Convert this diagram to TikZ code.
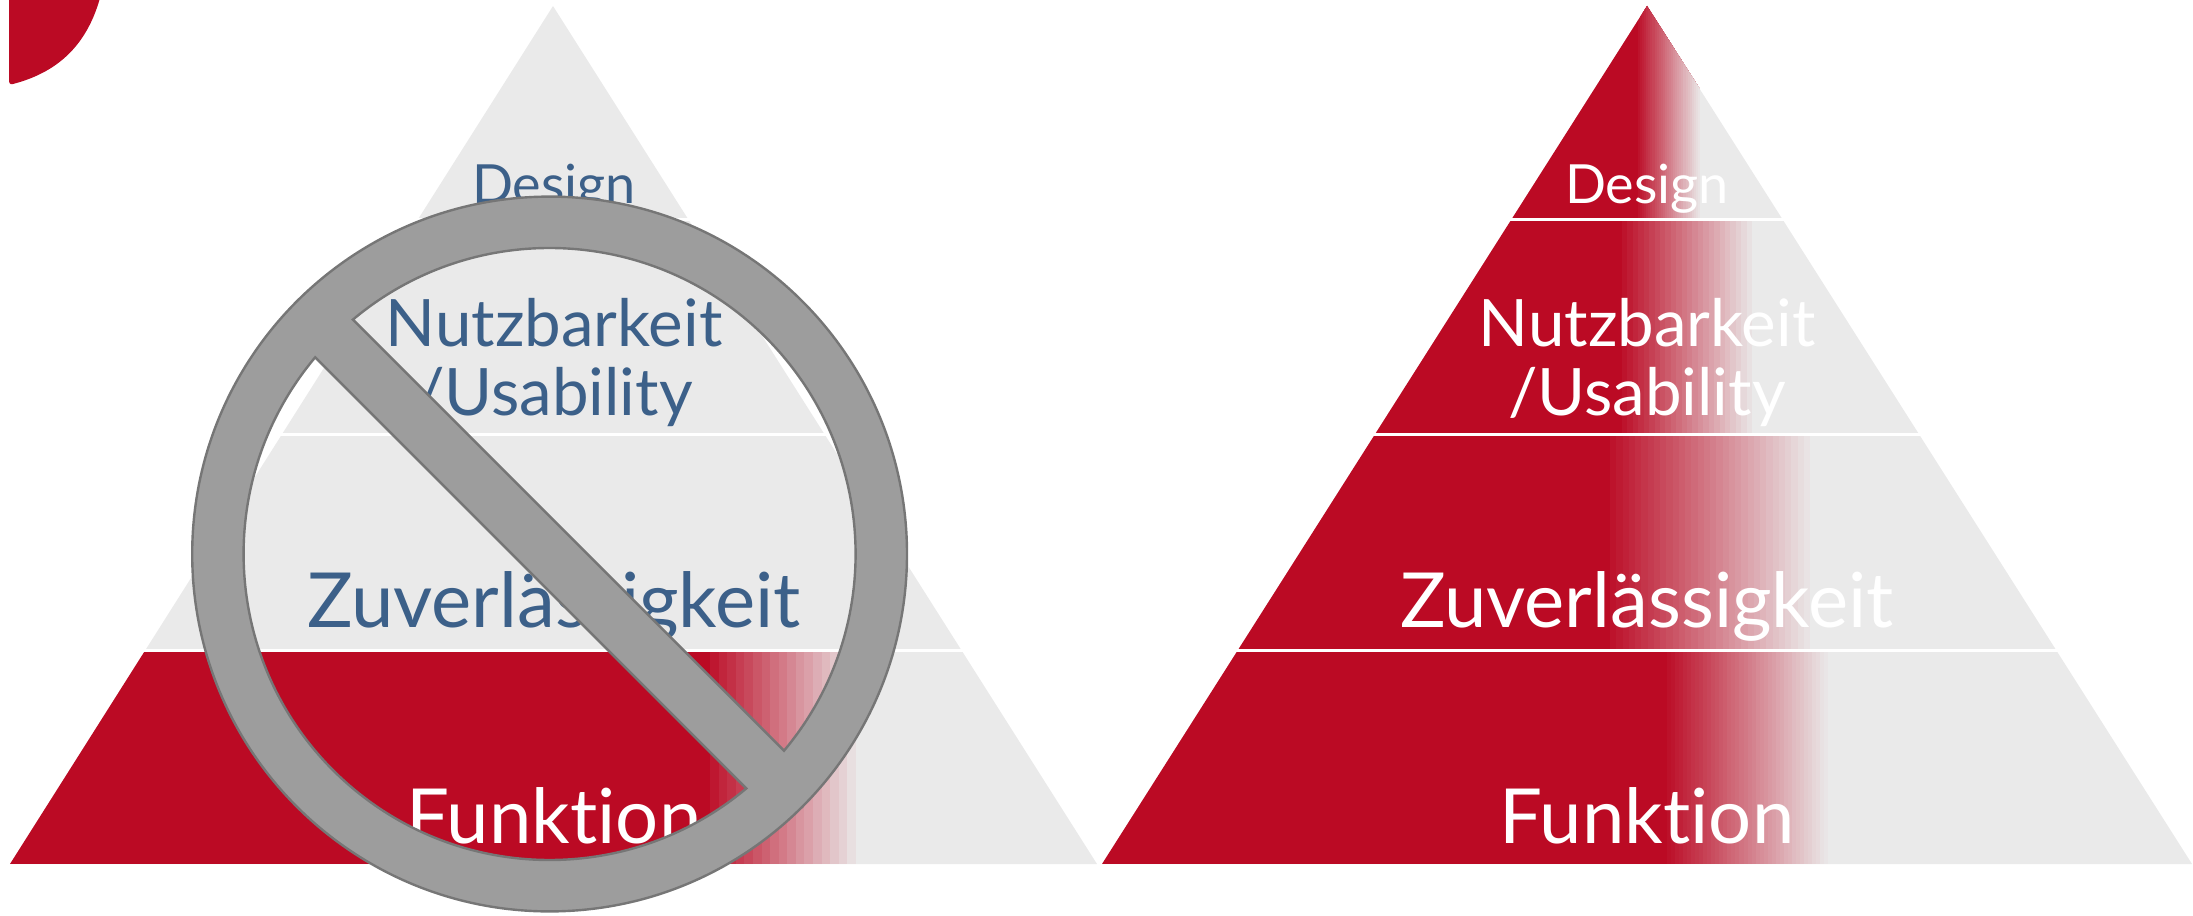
\documentclass[tikz,border=0pt]{standalone}
\usepackage{fontspec}
\setmainfont{Lato}[Ligatures=NoCommon]
\definecolor{pyrred}{RGB}{187,10,36}
\definecolor{pyrgray}{RGB}{234,234,234}
\definecolor{pyrblue}{RGB}{60,96,137}
\definecolor{ringfill}{RGB}{157,157,157}
\definecolor{ringline}{RGB}{118,118,118}
% #1 y top, #2 y bottom, #3 gradient start x, #4 gradient end x, #5 number of bands
\newcommand{\gradrow}[5]{%
  \fill[pyrred] (-10,#1) rectangle (#3,#2);
  \foreach \i in {1,...,#5}{%
    \pgfmathsetmacro{\bx}{#3+(\i-1)*(#4-#3)/#5}%
    \pgfmathtruncatemacro{\bp}{100-100*\i/(#5+1)}%
    \fill[pyrred!\bp!pyrgray] (\bx,#1) rectangle (#4,#2);
  }%
}
\tikzset{
  lab/.style={anchor=base,inner sep=0pt,align=center},
  big/.style={lab,font=\fontsize{38}{38}\selectfont},
  mid/.style={lab,font=\fontsize{32.7}{34.5}\selectfont},
  small/.style={lab,font=\fontsize{27}{27}\selectfont},
  sep/.style={draw=white,line width=1.5pt},
  ring/.style={fill=ringfill,draw=ringline,line width=1.2pt,even odd rule,line join=miter}
}
\begin{document}
\begin{tikzpicture}[x=0.5pt,y=-0.5pt]
\useasboundingbox (0,0) rectangle (2193,915);
% corner shape
\fill[pyrred] (9,-2) -- (9,80) .. controls (9,83) and (10,85) .. (13,84) .. controls (55,73) and (86,48) .. (100,-2) -- cycle;
% left pyramid
\fill[pyrgray] (553,6) -- (1097,864) -- (10,864) -- cycle;
\begin{scope}
  \clip (553,6) -- (1097,864) -- (10,864) -- cycle;
  \gradrow{650}{864}{710}{856}{17}
\end{scope}
\foreach \yy in {219,434,650}{\draw[sep] (10,\yy) -- (1097,\yy);}
\node[small,text=pyrblue] (d1) at (554,203) {Design};
\node[mid,text=pyrblue] (n1) at (554,415) {Nutzbarkeit\\/Usability};
\node[big,text=pyrblue] (z1) at (554,627) {Zuverlässigkeit};
\node[big,text=white] (f1) at (554,843) {Funktion};
% prohibition sign
\coordinate (c) at (549.6,554);
\path[ring] (c) circle[radius=178.7pt]
  ([shift={(130:153pt)}]c) arc[start angle=130,end angle=-40,radius=153pt] -- cycle
  ([shift={(140:153pt)}]c) arc[start angle=140,end angle=310,radius=153pt] -- cycle;
% right pyramid
\fill[pyrgray] (1647,6) -- (2192,864) -- (1102,864) -- cycle;
\begin{scope}
  \clip (1647,6) -- (2192,864) -- (1102,864) -- cycle;
  \gradrow{0}{219}{1638}{1700}{30}
  \gradrow{219}{434}{1622}{1752}{24}
  \gradrow{434}{650}{1610}{1810}{32}
  \gradrow{650}{864}{1667}{1828}{40}
\end{scope}
\foreach \yy in {219,434,650}{\draw[sep] (1100,\yy) -- (2193,\yy);}
\node[small,text=white] (d2) at (1647,203) {Design};
\node[mid,text=white] (n2) at (1647,415) {Nutzbarkeit\\/Usability};
\node[big,text=white] (z2) at (1647,627) {Zuverlässigkeit};
\node[big,text=white] (f2) at (1647,843) {Funktion};
\end{tikzpicture}
\end{document}
